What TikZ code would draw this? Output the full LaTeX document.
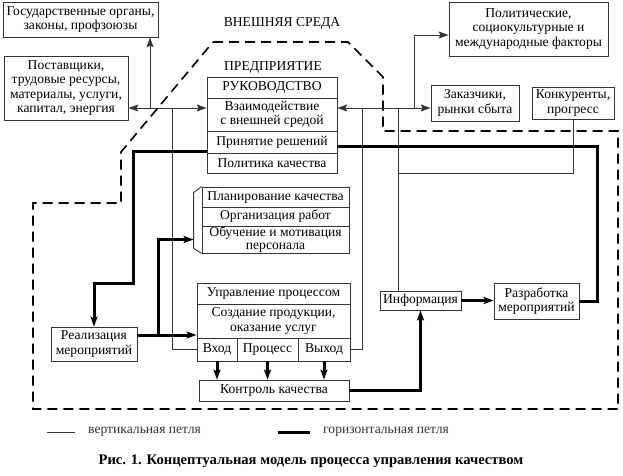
\documentclass[tikz,border=0pt]{standalone}
\usepackage{fontspec}
\setmainfont{Liberation Serif}
\usetikzlibrary{arrows.meta,calc}

\tikzset{
    box/.style={draw=black!80,line width=0.8pt,inner sep=0pt,align=center,
        font=\fontsize{13.6}{14.5}\selectfont},
    label/.style={inner sep=0pt,font=\fontsize{13.6}{14.5}\selectfont},
    thinline/.style={draw=black!80,line width=0.9pt},
    thickline/.style={draw=black,line width=3pt},
    border/.style={draw=black,line width=1.6pt,dash pattern=on 10pt off 6pt},
    >={Stealth[length=10pt,width=7pt,inset=2pt]}
}

\begin{document}
\begin{tikzpicture}[x=1pt,y=-1pt]
    \useasboundingbox (0,0) rectangle (623,475);
    % внешняя среда
    \node[box,minimum width=155pt,minimum height=35pt] (gov) at (80.5,19.5) {Государственные органы,\\законы, профзоюзы};
    \node[box,minimum width=124pt,minimum height=64pt] (supp) at (66,88) {Поставщики,\\трудовые ресурсы,\\материалы, услуги,\\капитал, энергия};
    \node[box,minimum width=159pt,minimum height=54pt] (pol) at (528.5,29) {Политические,\\социокультурные и\\международные факторы};
    \node[box,minimum width=88pt,minimum height=36pt] (cust) at (475,103) {Заказчики,\\рынки сбыта};
    \node[box,minimum width=82pt,minimum height=32pt] (comp) at (573,103) {Конкуренты,\\прогресс};
    \node[label] (env) at (282,23) {ВНЕШНЯЯ СРЕДА};
    \node[label] (firm) at (273,67) {ПРЕДПРИЯТИЕ};
    % предприятие
    \draw[border] (213,42) -- (348,42) -- (383,77) -- (383,131) -- (618,131) -- (618,409)
        -- (33,409) -- (33,203) -- (121,203) -- (121,152) -- cycle;
    \node[box,minimum width=130pt,minimum height=21pt] (ruk1) at (272,87.5) {РУКОВОДСТВО};
    \node[box,minimum width=130pt,minimum height=33pt] (ruk2) at (272,114.5) {Взаимодействие\\с внешней средой};
    \node[box,minimum width=130pt,minimum height=22pt] (ruk3) at (272,142) {Принятие решений};
    \node[box,minimum width=130pt,minimum height=20pt] (ruk4) at (272,163) {Политика качества};
    \node[box,minimum width=147pt,minimum height=20pt] (plan) at (275.5,197) {Планирование качества};
    \node[box,minimum width=147pt,minimum height=19pt] (org) at (275.5,216.5) {Организация работ};
    \node[box,minimum width=147pt,minimum height=27pt,font=\fontsize{13.6}{13.5}\selectfont] (obuch) at (275.5,239.5) {Обучение и мотивация\\персонала};
    \draw[thinline] (plan.north west) -- ++(-8,6) -- ($(obuch.south west)+(-8,-5)$) -- (obuch.south west);
    \node[box,minimum width=153pt,minimum height=21pt] (upr) at (273.5,293.5) {Управление процессом};
    \node[box,minimum width=153pt,minimum height=34pt] (sozd) at (273.5,321) {Создание продукции,\\оказание услуг};
    \node[box,minimum width=40pt,minimum height=23pt] (vhod) at (217,349.5) {Вход};
    \node[box,minimum width=61pt,minimum height=23pt] (proc) at (267.5,349.5) {Процесс};
    \node[box,minimum width=52pt,minimum height=23pt] (vyh) at (324,349.5) {Выход};
    \node[box,minimum width=150pt,minimum height=21pt] (kontr) at (274,390.5) {Контроль качества};
    \node[box,minimum width=86pt,minimum height=34pt] (real) at (94,344) {Реализация\\мероприятий};
    \node[box,minimum width=81pt,minimum height=19pt] (info) at (420.5,300.5) {Информация};
    \node[box,minimum width=85pt,minimum height=36pt] (razr) at (536.5,301) {Разработка\\мероприятий};
    % вертикальная петля
    \coordinate (jl) at (150,108);
    \coordinate (jv) at (172,108);
    \coordinate (jo) at (362,108);
    \coordinate (ji) at (398,108);
    \coordinate (jr) at (414,108);
    \coordinate (jc) at (398,173);
    \draw[thinline,<->] (supp.east |- jl) -- (ruk2.west |- jl);
    \draw[thinline,->] (jl) -- (jl |- gov.south);
    \draw[thinline] (jv) |- (vhod.west);
    \draw[thinline,<->] (ruk2.east |- jr) -- (cust.west |- jr);
    \draw[thinline,->] (jr) |- ($(pol.west)+(0,6)$);
    \draw[thinline] (jo) |- (vyh.east);
    \draw[thinline] (ji) -- (ji |- info.north);
    \draw[thinline] (comp.south) |- (jc);
    % горизонтальная петля
    \coordinate (tr) at (597,146);
    \coordinate (tl) at (133,151);
    \coordinate (tk) at (133,283);
    \coordinate (tm) at (158,335);
    \coordinate (br) at ($(obuch.west)+(-8,0)$);
    \draw[thickline] (ruk3.east |- tr) -- (tr) |- (razr.east);
    \draw[thickline,->] (ruk3.west |- tl) -- (tl) -- (tk) -| (real.north);
    \draw[thickline,->] (real.east |- tm) -- (sozd.west |- tm);
    \draw[thickline,->] (tm) |- (br);
    \foreach \c in {vhod,proc,vyh}
        \draw[thickline,->] (\c.south) -- (\c.south |- kontr.north);
    \draw[thickline,->] (kontr.east) -| (info.south);
    \draw[thickline,->] (info.east) -- (razr.west |- info.east);
    % легенда
    \coordinate (lv1) at (47,432);
    \coordinate (lv2) at (75,432);
    \coordinate (lh1) at (278,432);
    \coordinate (lh2) at (310,432);
    \draw[thinline] (lv1) -- (lv2);
    \draw[thickline] (lh1) -- (lh2);
    \node[label,anchor=west,text=black!80] (lvt) at (88,432) {вертикальная петля};
    \node[label,anchor=west,text=black!80] (lht) at (323,432) {горизонтальная петля};
    \node[label,font=\bfseries\fontsize{14.6}{15}\selectfont] (cap) at (311,461) {Рис. 1. Концептуальная модель процесса управления качеством};
\end{tikzpicture}
\end{document}
